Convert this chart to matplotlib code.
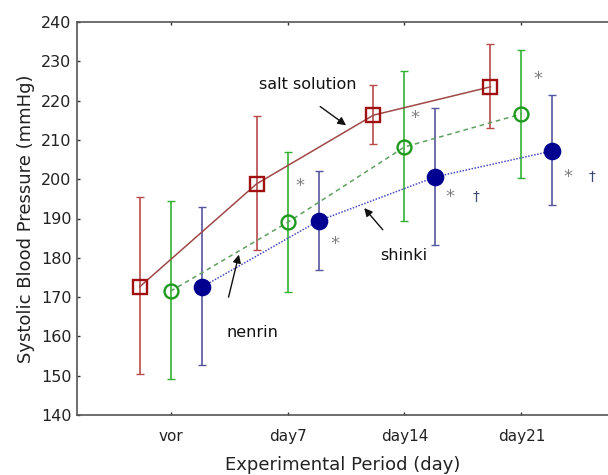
import matplotlib
matplotlib.use("Agg")
import matplotlib.pyplot as plt
import numpy as np

categories = ["vor", "day7", "day14", "day21"]
salt_mean = [172.6, 198.8, 216.3, 223.5]
salt_low = [150.5, 182.0, 209.0, 213.0]
salt_high = [195.5, 216.2, 224.0, 234.5]
nenrin_mean = [171.5, 189.0, 208.2, 216.6]
nenrin_low = [149.2, 171.3, 189.4, 200.4]
nenrin_high = [194.5, 207.0, 227.5, 233.0]
shinki_mean = [172.5, 189.4, 200.6, 207.2]
shinki_low = [152.6, 177.0, 183.2, 193.4]
shinki_high = [193.0, 202.0, 218.2, 221.5]

fig = plt.figure(figsize=(6.08, 4.75), dpi=100)
ax = fig.add_axes([77/608, 60/475, 1 - 77/608, (415-22)/475])

x = np.arange(1, len(categories) + 1)
off = 0.265

def draw(xs, mean, low, high, ecol, lcol, ls, marker, mfc, mec, ms):
    mean = np.array(mean)
    yerr = [mean - np.array(low), np.array(high) - mean]
    ax.errorbar(xs, mean, yerr=yerr, fmt='none', ecolor=ecol, elinewidth=1.2,
                capsize=3, capthick=1.0, zorder=2)
    ax.plot(xs, mean, color=lcol, ls=ls, lw=1.1, zorder=3)
    ax.plot(xs, mean, ls='none', marker=marker, ms=ms, mfc=mfc, mec=mec,
            mew=1.7, zorder=4)

draw(x - off, salt_mean, salt_low, salt_high, '#b84a4a', '#a04848', '-', 's',
     'none', '#a01010', 10)
draw(x, nenrin_mean, nenrin_low, nenrin_high, '#33b033', '#5f9f5f', (0, (3, 2.5)), 'o',
     'none', '#1f9a1f', 10)
draw(x + off, shinki_mean, shinki_low, shinki_high, '#5656a0', '#4a4ac0', (0, (1, 1)), 'o',
     '#000090', '#000090', 11)

ax.set_xlim(0.2, 4.74)
ax.set_ylim(140, 240)
ax.set_yticks(np.arange(140, 241, 10))
ax.set_xticks(x)
ax.set_xticklabels(categories)
ax.tick_params(direction='in', length=2.5, width=1, colors='#333333',
               labelsize=11, labelcolor='#222222', pad=10, top=True)
ax.tick_params(axis='y', pad=4, labelsize=11.5)
for s in ['left', 'bottom', 'top']:
    ax.spines[s].set_color('#555555')
    ax.spines[s].set_linewidth(1.2)
ax.spines['right'].set_visible(False)

ax.set_ylabel("Systolic Blood Pressure (mmHg)", fontsize=13, color='#222222', labelpad=4)
ax.set_xlabel("Experimental Period (day)", fontsize=13, color='#222222', labelpad=9)

star_col = '#808080'
marks = [(2.106, 198.2, '*'), (2.405, 183.6, '*'), (3.09, 215.6, '*'),
         (3.39, 195.5, '*'), (3.61, 195.5, '†'), (4.14, 225.5, '*'),
         (4.40, 200.6, '*'), (4.60, 200.6, '†')]
for mx, my, t in marks:
    ax.text(mx, my, t, fontsize=13 if t == '*' else 10,
            color=star_col if t == '*' else '#3a4a70', ha='center', va='center')

ax.text(1.756, 224.0, "salt solution", fontsize=11.5, ha='left', va='center', color='#111111')
ax.annotate("", xy=(2.52, 213.3), xytext=(2.26, 218.9),
            arrowprops=dict(arrowstyle='-|>', color='#111111', lw=1.0, mutation_scale=12))
ax.text(2.99, 180.5, "shinki", fontsize=11.5, ha='center', va='center', color='#111111')
ax.annotate("", xy=(2.64, 193.2), xytext=(2.83, 186.6),
            arrowprops=dict(arrowstyle='-|>', color='#111111', lw=1.0, mutation_scale=12))
ax.text(1.70, 160.9, "nenrin", fontsize=11.5, ha='center', va='center', color='#111111')
ax.annotate("", xy=(1.59, 181.5), xytext=(1.49, 169.3),
            arrowprops=dict(arrowstyle='-|>', color='#111111', lw=1.0, mutation_scale=12))

fig.savefig("out.png", dpi=100)
